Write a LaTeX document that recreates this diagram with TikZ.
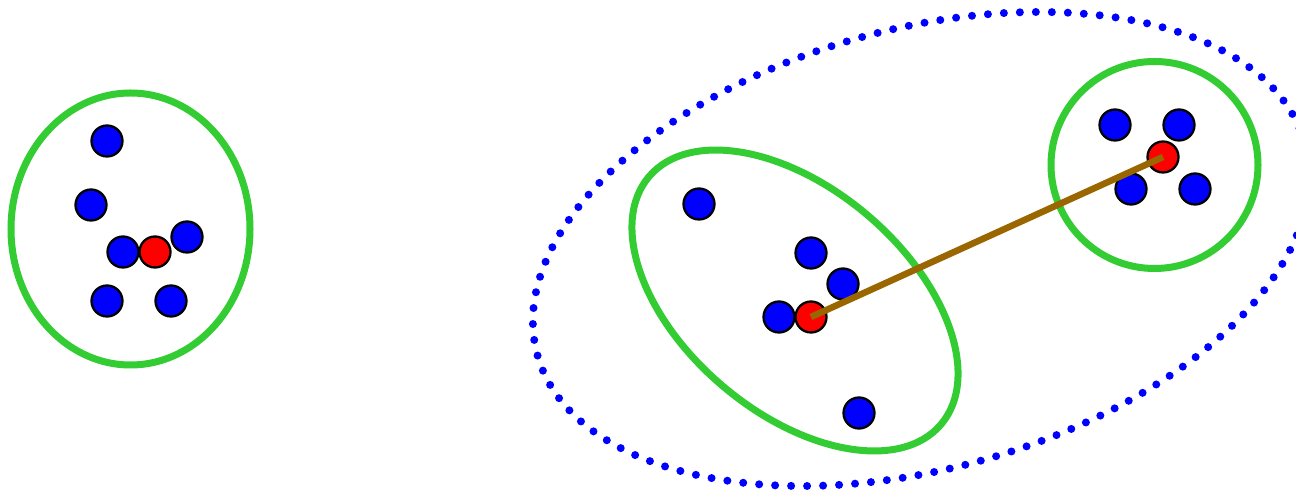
\documentclass[tikz,border=0pt]{standalone}
\usepackage{xcolor}
\usepackage{tikz}
\definecolor{grpgreen}{RGB}{51,204,51}
\definecolor{bondbrown}{RGB}{153,102,0}

\begin{document}
\begin{tikzpicture}[x=1pt,y=1pt,
  atom/.style={circle,draw=black,line width=2.3pt,fill=blue,minimum size=31pt,inner sep=0pt},
  core/.style={atom,fill=red},
  group/.style={draw=grpgreen,line width=7pt},
  halo/.style={draw=blue,line width=8pt,line cap=round,dash pattern=on 0pt off 16pt}]
  \useasboundingbox (0,0) rectangle (1296,492);
  % outer pair
  \draw[halo,rotate around={15.4:(921,243)}] (921,243) ellipse [x radius=398,y radius=220];
  % clusters
  \draw[group] (130.5,263) ellipse [x radius=119.5,y radius=136];
  \draw[group,rotate around={-40.3:(795,191.5)}] (795,191.5) ellipse [x radius=191.5,y radius=112];
  \draw[group] (1154.5,327) circle (103.5);
  \foreach \x/\y/\n in {107/351/a1,91/287/a2,123/240/a3,187/255/a4,107/191/a5,171/191/a6}
    \node[atom] (\n) at (\x,\y) {};
  \node[core] (ca) at (155,240) {};
  \foreach \x/\y/\n in {699/288/b1,811/239/b2,843/208/b3,779/175/b4,859/79/b5}
    \node[atom] (\n) at (\x,\y) {};
  \node[core] (cb) at (811,175) {};
  \foreach \x/\y/\n in {1115/367/c1,1179/367/c2,1131/303/c3,1195/303/c4}
    \node[atom] (\n) at (\x,\y) {};
  \node[core] (cc) at (1163,335) {};
  \draw[bondbrown,line width=6.5pt] (cb.center) -- (cc.center);
\end{tikzpicture}
\end{document}
